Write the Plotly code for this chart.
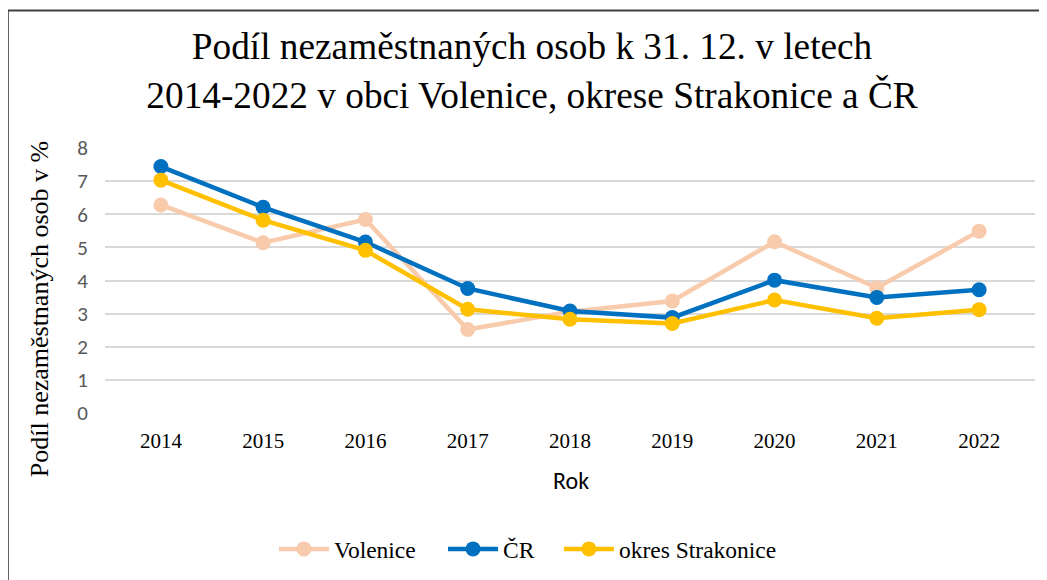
import plotly.graph_objects as go

years = ["2014", "2015", "2016", "2017", "2018", "2019", "2020", "2021", "2022"]
volenice = [6.28, 5.14, 5.84, 2.52, 3.06, 3.38, 5.17, 3.78, 5.49]
cr = [7.44, 6.21, 5.16, 3.76, 3.08, 2.88, 4.01, 3.49, 3.72]
strakonice = [7.03, 5.82, 4.91, 3.13, 2.83, 2.70, 3.41, 2.86, 3.12]

series = [
    ("Volenice", volenice, "#F8CBAD", "legend", 0.254),
    ("ČR", cr, "#0070C0", "legend2", 0.4155),
    ("okres Strakonice", strakonice, "#FFC000", "legend3", 0.5262),
]

fig = go.Figure()
legend_layouts = {}
for name, vals, col, lg, lx in series:
    fig.add_trace(go.Scatter(
        x=years, y=vals, name=name, mode="lines+markers",
        line=dict(color=col, width=4.5),
        marker=dict(color=col, size=15),
        legend=lg,
    ))
    legend_layouts[lg] = dict(
        orientation="h", xref="container", yref="container",
        x=lx, xanchor="left", y=0.067, yanchor="middle",
        font=dict(family="Liberation Serif", size=23.5, color="black"),
        bgcolor="rgba(0,0,0,0)", itemwidth=50,
    )

fig.update_layout(
    width=1047, height=580,
    margin=dict(l=97, r=20, t=140, b=175),
    paper_bgcolor="white", plot_bgcolor="white",
    title=dict(
        text="Podíl nezaměstnaných osob k 31. 12. v letech<br>2014-2022 v obci Volenice, okrese Strakonice a ČR",
        x=0.5005, xanchor="center", y=0.9115, yanchor="top",
        font=dict(family="Liberation Serif", size=37.3, color="black"),
    ),
    xaxis=dict(
        type="category", showgrid=False, showline=False, ticks="", automargin=False,
        ticklabelstandoff=13,
        tickfont=dict(family="Liberation Serif", size=21, color="black"),
    ),
    yaxis=dict(
        range=[0, 8], dtick=1, showgrid=True, gridcolor="#D9D9D9", gridwidth=2,
        zeroline=False, ticks="", automargin=False, ticklabelstandoff=16,
        tickfont=dict(family="Carlito, Liberation Sans", size=21, color="#595959"),
    ),
    showlegend=True,
    **legend_layouts,
)

fig.add_annotation(text="Podíl nezaměstnaných osob v %", textangle=-90,
                   xref="paper", yref="paper", x=-0.0708, y=0.392,
                   xanchor="center", yanchor="middle", showarrow=False,
                   font=dict(family="Liberation Serif", size=26, color="black"))
fig.add_annotation(text="Rok", xref="paper", yref="paper", x=0.5016, y=-0.253,
                   xanchor="center", yanchor="middle", showarrow=False,
                   font=dict(family="Carlito, Liberation Sans", size=24, color="black"))

fig.add_shape(type="rect", xref="paper", yref="paper",
              x0=-0.1045, x1=1.2, y0=-1.0, y1=1.519,
              line=dict(color="#404040", width=2), fillcolor="rgba(0,0,0,0)")

fig.write_html("out.html")
